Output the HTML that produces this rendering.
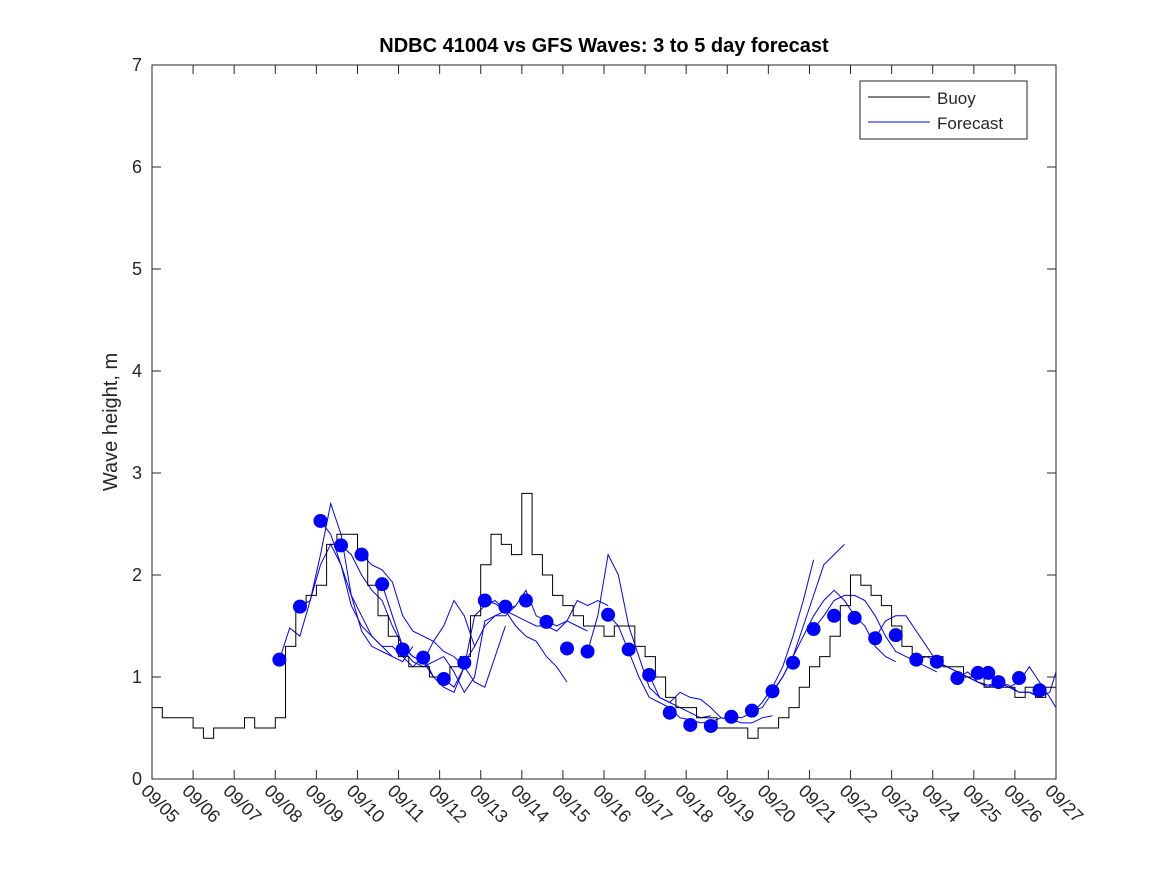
<!DOCTYPE html>
<html><head><meta charset="utf-8"><style>
body{margin:0;background:#fff}
svg text{font-family:"Liberation Sans","DejaVu Sans",sans-serif;fill:#262626}
</style></head><body>
<svg id="chart" width="1167" height="875" xmlns="http://www.w3.org/2000/svg">
<rect width="1167" height="875" fill="#fff"/>
<text x="604" y="52" font-size="20" font-weight="bold" text-anchor="middle" style="fill:#000">NDBC 41004 vs GFS Waves: 3 to 5 day forecast</text>
<text transform="translate(117,422) rotate(-90)" font-size="20" text-anchor="middle">Wave height, m</text>
<g id="plot"></g>
<g id="axes"></g>
<g>
<rect x="860" y="81" width="167" height="58" fill="#fff" stroke="#262626" stroke-width="1"/>
<line x1="868" y1="97" x2="930" y2="97" stroke="#000" stroke-width="1"/>
<text x="937" y="104" font-size="17">Buoy</text>
<line x1="868" y1="122" x2="930" y2="122" stroke="#0000ff" stroke-width="1"/>
<text x="937" y="129" font-size="17">Forecast</text>
</g>
</svg>
<script>
const xTickLabels=["09/05","09/06","09/07","09/08","09/09","09/10","09/11","09/12","09/13","09/14","09/15","09/16","09/17","09/18","09/19","09/20","09/21","09/22","09/23","09/24","09/25","09/26","09/27"];
const yTicks=[0,1,2,3,4,5,6,7];
const buoyStep=0.25;
const buoyValues=[0.7,0.6,0.6,0.6, 0.5,0.4,0.5,0.5, 0.5,0.6,0.5,0.5, 0.6,1.3,1.7,1.8,
1.9,2.3,2.4,2.4, 2.2,1.9,1.6,1.4, 1.2,1.1,1.1,1.0, 1.0,1.1,1.2,1.6,
2.1,2.4,2.3,2.2, 2.8,2.2,2.0,1.8, 1.7,1.6,1.5,1.5, 1.4,1.5,1.5,1.3,
1.2,1.0,0.8,0.7, 0.7,0.6,0.6,0.5, 0.5,0.5,0.4,0.5, 0.5,0.6,0.7,0.9,
1.1,1.2,1.4,1.7, 2.0,1.9,1.8,1.7, 1.5,1.3,1.2,1.2, 1.2,1.1,1.1,1.0,
1.0,0.9,0.9,0.9, 0.8,0.9,0.8,0.9, 0.7];
const dotDays=[3.1,3.6,4.1,4.6,5.1,5.6,6.1,6.6,7.1,7.6,8.1,8.6,9.1,9.6,10.1,10.6,11.1,11.6,12.1,12.6,13.1,13.6,14.1,14.6,15.1,15.6,16.1,16.6,17.1,17.6,18.1,18.6,19.1,19.6,20.1,20.35,20.6,21.1,21.6];
const dotValues=[1.17,1.69,2.53,2.29,2.2,1.91,1.27,1.19,0.98,1.14,1.75,1.69,1.75,1.54,1.28,1.25,1.61,1.27,1.02,0.65,0.53,0.52,0.61,0.67,0.86,1.14,1.47,1.60,1.58,1.38,1.41,1.17,1.15,0.99,1.04,1.04,0.95,0.99,0.87];
const forecastStep=0.25;
const forecastStarts=[3.1,3.6,4.1,4.6,5.1,5.6,6.1,7.1,7.6,8.1,10.6,11.1,12.1,14.1,14.6,15.1,16.1,17.6,18.6,19.6,20.1];
const forecastRuns=[
[1.17,1.48,1.40,1.75,2.2,2.7,2.4,1.8,1.45,1.3,1.25,1.2],
[1.69,1.75,2.1,2.3,2.1,1.7,1.5,1.4,1.3,1.2,1.15,1.3],
[2.53,2.4,2.1,1.8,1.6,1.4,1.3,1.3,1.2,1.1,1.2,1.0],
[2.29,2.2,2.0,1.85,1.75,1.5,1.3,1.2,1.15,1.0,0.9,0.85,1.1],
[2.2,2.1,2.05,1.93,1.6,1.45,1.4,1.35,1.5,1.75,1.6,1.3],
[1.91,1.6,1.3,1.2,1.15,1.35,1.25,1.2,1.1,0.95,0.9,1.2,1.5],
[1.27,1.15,1.1,1.15,1.2,1.05,0.85,1.0,1.55,1.6,1.6,1.7],
[0.98,0.9,1.1,1.6,1.7,1.75,1.65,1.5,1.4,1.35,1.2,1.1,0.95],
[1.14,1.3,1.5,1.6,1.65,1.7,1.85,1.6,1.55,1.5,1.55,1.5,1.45],
[1.75,1.72,1.65,1.6,1.55,1.5,1.5,1.45,1.55,1.75,1.7,1.75,1.7],
[1.25,1.6,2.2,2.0,1.5,1.2,0.9,0.8,0.75,0.7,0.65,0.6,0.62],
[1.61,1.5,1.25,1.0,0.8,0.75,0.7,0.6,0.58,0.55,0.56,0.6,0.58],
[1.02,0.8,0.75,0.85,0.8,0.78,0.7,0.6,0.58,0.55,0.55,0.6,0.62],
[0.61,0.6,0.65,0.75,0.9,1.1,1.4,1.75,2.15],
[0.67,0.7,0.85,1.0,1.2,1.5,1.8,2.1,2.2,2.3],
[0.86,1.0,1.2,1.4,1.6,1.75,1.85,1.75,1.6,1.5,1.3,1.2,1.15],
[1.47,1.6,1.75,1.8,1.8,1.75,1.6,1.4,1.25,1.2,1.15,1.1,1.05],
[1.38,1.55,1.6,1.6,1.45,1.3,1.15,1.1,1.05,1.0,0.95,0.92,0.9],
[1.17,1.2,1.15,1.1,1.05,1.0,0.95,0.92,0.95,0.9,0.85,0.85,0.82],
[0.99,1.05,0.95,0.9,0.95,0.92,0.85,0.85,0.8,0.85,1.05,0.9,0.75],
[1.04,1.0,0.95,0.9,0.95,1.1,0.95,0.8,0.7]];

const NS="http://www.w3.org/2000/svg";
const L=152,R=1056,T=65,B=779,xMax=22,yMax=7;
function xs(d){return L+(R-L)*d/xMax;}
function ys(v){return B-(B-T)*v/yMax;}
function mk(tag,attrs,parent){const e=document.createElementNS(NS,tag);for(const k in attrs)e.setAttribute(k,attrs[k]);parent.appendChild(e);return e;}
const plot=document.getElementById('plot'),axes=document.getElementById('axes');

forecastRuns.forEach((run,i)=>{
  const pts=run.map((v,j)=>xs(Math.min(xMax,forecastStarts[i]+j*forecastStep)).toFixed(1)+','+ys(v).toFixed(1)).join(' ');
  const p=mk('polyline',{points:pts,fill:'none',stroke:'#0000ff','stroke-width':1},plot);
  
  
});
let d='';
buoyValues.forEach((v,i)=>{
  const x0=xs(i*buoyStep),x1=xs(Math.min(xMax,(i+1)*buoyStep)),y=ys(v);
  d+=(i===0?'M':'L')+x0.toFixed(1)+','+y.toFixed(1)+'L'+x1.toFixed(1)+','+y.toFixed(1);
});
const bl=mk('path',{d:d,fill:'none',stroke:'#000','stroke-width':1},plot);


dotValues.forEach((v,i)=>{
  const c=mk('circle',{cx:xs(dotDays[i]),cy:ys(v),r:7,fill:'#0000ff'},plot);
  
  
});
mk('rect',{x:L,y:T,width:R-L,height:B-T,fill:'none',stroke:'#262626','stroke-width':1},axes);
yTicks.forEach(v=>{
  const y=ys(v);
  mk('line',{x1:L,y1:y,x2:L+9,y2:y,stroke:'#262626'},axes);
  mk('line',{x1:R,y1:y,x2:R-9,y2:y,stroke:'#262626'},axes);
  const t=mk('text',{x:L-10,y:y+6,'font-size':18,'text-anchor':'end'},axes);
  t.textContent=v;
  
  
});
xTickLabels.forEach((lab,i)=>{
  const x=xs(i);
  mk('line',{x1:x,y1:B,x2:x,y2:B-9,stroke:'#262626'},axes);
  mk('line',{x1:x,y1:T,x2:x,y2:T+9,stroke:'#262626'},axes);
  const t=mk('text',{transform:'translate('+(x-12)+','+(B+13)+') rotate(45)','font-size':18},axes);
  t.textContent=lab;
  
  
});
</script>
</body></html>
